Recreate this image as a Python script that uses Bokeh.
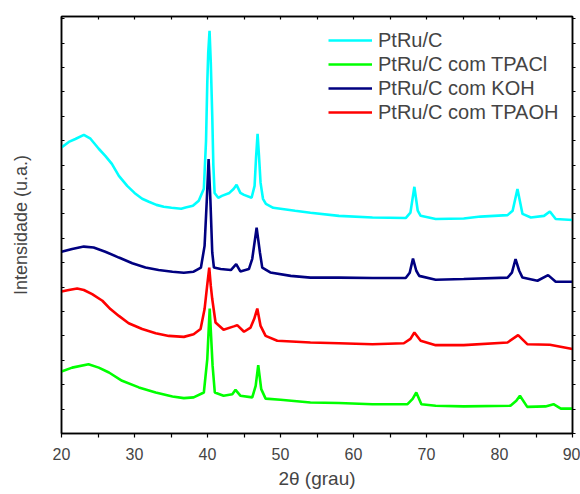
from bokeh.plotting import figure
from bokeh.models import Range1d, LinearAxis, FixedTicker
from bokeh.embed import file_html
from bokeh.resources import INLINE

# 2theta (degrees) and intensity (arbitrary units, offset curves)
x_ptru = [20, 21.0, 21.9, 23.06, 23.97, 25.1, 26.0, 26.9, 27.86, 29.0, 30.0, 31.05, 31.97, 33.0, 34.0, 35.07,
          36.4, 37.0, 38.0, 38.8, 39.5, 39.8, 39.97, 40.1, 40.28, 40.45, 40.65, 40.8, 40.97, 41.47, 41.97, 43.0,
          43.6, 43.98, 44.5, 45.0, 46.04, 46.45, 46.65, 46.86, 47.05, 47.27, 47.6, 48.0, 49.0, 50.0, 52.0, 54.1,
          58.0, 62.6, 67.15, 67.8, 68.34, 68.8, 69.2, 71.26, 75.1, 77.4, 81.1, 81.8, 82.46, 83.15, 84.3, 86.1,
          86.9, 87.7, 90]
y_ptru = [11.72, 11.95, 12.07, 12.24, 12.08, 11.67, 11.38, 11.05, 10.56, 10.15, 9.86, 9.62, 9.50, 9.37, 9.29, 9.25,
          9.21, 9.26, 9.33, 9.54, 10.03, 12.0, 14.37, 15.6, 16.50, 15.2, 13.02, 11.0, 9.86, 9.66, 9.74, 9.86,
          10.03, 10.19, 9.86, 9.78, 9.66, 10.15, 11.3, 12.28, 11.4, 10.27, 9.62, 9.41, 9.25, 9.21, 9.13, 9.05,
          8.92, 8.85, 8.83, 9.05, 10.11, 9.13, 8.92, 8.79, 8.81, 8.89, 8.95, 9.13, 10.02, 9.00, 8.85, 8.92,
          9.10, 8.79, 8.75]

x_tpacl = [20, 21.46, 23.7, 25.1, 26.5, 28.3, 30.6, 32.9, 35.2, 36.76, 38.1, 39.5, 39.97, 40.3, 40.7, 41.0,
           42.2, 43.4, 43.84, 44.5, 46.13, 46.6, 46.95, 47.36, 47.96, 50, 54.1, 58, 62.6, 67.4, 68.1, 68.6,
           69.3, 71.26, 75.1, 81.5, 82.3, 82.8, 83.8, 86.3, 87.4, 88.4, 90]
y_tpacl = [2.54, 2.70, 2.84, 2.70, 2.50, 2.16, 1.89, 1.68, 1.52, 1.45, 1.48, 1.68, 3.05, 5.12, 2.77, 1.68,
           1.55, 1.61, 1.79, 1.55, 1.48, 1.95, 2.80, 1.82, 1.43, 1.38, 1.27, 1.25, 1.20, 1.20, 1.42, 1.68,
           1.20, 1.14, 1.11, 1.14, 1.34, 1.55, 1.09, 1.11, 1.20, 1.02, 1.02]

x_koh = [20, 21.46, 23.06, 24.4, 26.0, 27.86, 29.7, 31.5, 33.3, 35.2, 36.76, 38.1, 39.1, 39.6, 39.9, 40.15,
         40.4, 40.65, 40.88, 41.8, 43.2, 43.93, 44.5, 45.67, 46.13, 46.73, 47.18, 47.5, 48.6, 51.4, 54.1, 58.0,
         62.6, 67.15, 67.7, 68.15, 68.6, 69.0, 71.26, 75.1, 81.1, 81.7, 82.2, 82.7, 83.15, 85.2, 86.66, 87.7, 90]
y_koh = [7.45, 7.56, 7.66, 7.62, 7.45, 7.21, 6.98, 6.80, 6.70, 6.63, 6.59, 6.63, 6.80, 7.69, 9.54, 11.25,
         9.54, 7.42, 6.80, 6.74, 6.70, 6.94, 6.64, 6.74, 7.16, 8.44, 7.42, 6.80, 6.60, 6.46, 6.39, 6.39,
         6.37, 6.37, 6.59, 7.17, 6.67, 6.46, 6.30, 6.33, 6.39, 6.59, 7.15, 6.67, 6.39, 6.26, 6.49, 6.22, 6.22]

x_tpaoh = [20, 21.0, 22.15, 23.06, 24.2, 25.6, 26.7, 27.86, 29.2, 31.05, 32.9, 34.7, 36.76, 38.1, 39.05, 39.6,
           39.95, 40.24, 40.45, 40.65, 41.1, 42.2, 43.6, 44.07, 45.0, 45.9, 46.4, 46.82, 47.27, 47.96, 49.56,
           54.1, 58.0, 62.6, 66.9, 67.8, 68.34, 69.2, 71.26, 75.1, 81.1, 82.55, 83.8, 86.9, 90]
y_tpaoh = [5.82, 5.88, 5.94, 5.88, 5.71, 5.44, 5.10, 4.82, 4.52, 4.28, 4.11, 4.00, 3.96, 4.07, 4.28, 5.10,
           6.05, 6.80, 6.05, 5.51, 4.55, 4.25, 4.39, 4.44, 4.17, 4.34, 4.70, 5.12, 4.41, 4.00, 3.80,
           3.73, 3.70, 3.66, 3.70, 3.88, 4.14, 3.80, 3.62, 3.62, 3.73, 4.03, 3.66, 3.64, 3.46]

series = [
    ("PtRu/C", x_ptru, y_ptru, "#00FFFF"),
    ("PtRu/C com TPACl", x_tpacl, y_tpacl, "#00FF00"),
    ("PtRu/C com KOH", x_koh, y_koh, "#000080"),
    ("PtRu/C com TPAOH", x_tpaoh, y_tpaoh, "#FF0000"),
]

x_ticks = [20, 30, 40, 50, 60, 70, 80, 90]
x_minor = [25, 35, 45, 55, 65, 75, 85]
y_ticks = list(range(0, 18))

FONT = "Liberation Sans"


def hide_labels(ax):
    ax.major_label_text_color = None
    ax.major_label_text_font_size = "4px"
    ax.major_label_standoff = 0


p = figure(frame_width=511, frame_height=417, output_backend="svg", toolbar_location=None,
           x_range=Range1d(20, 90), y_range=Range1d(0, 17.09),
           min_border_left=61, min_border_right=8, min_border_top=16, min_border_bottom=58)
p.background_fill_color = "white"
p.border_fill_color = "white"
p.outline_line_color = "black"
p.outline_line_width = 1.5
p.grid.visible = False

for name, xs, ys, col in series:
    p.line(xs, ys, line_color=col, line_width=2.6, legend_label=name)

# bottom axis
xa = p.xaxis[0]
xa.ticker = FixedTicker(ticks=x_ticks, minor_ticks=x_minor)
xa.major_tick_in = 0
xa.major_tick_out = 4
xa.minor_tick_in = 0
xa.minor_tick_out = 4
xa.axis_line_width = 1.5
xa.major_tick_line_width = 1.2
xa.minor_tick_line_width = 1.2
xa.major_label_text_font = FONT
xa.major_label_text_font_size = "16px"
xa.major_label_standoff = 10
xa.axis_label = "2θ (grau)"
xa.axis_label_text_font = FONT
xa.axis_label_text_font_size = "19px"
xa.axis_label_text_font_style = "normal"
xa.axis_label_standoff = 5

# left axis
ya = p.yaxis[0]
ya.ticker = FixedTicker(ticks=y_ticks, minor_ticks=[])
ya.major_tick_in = 3
ya.major_tick_out = 0
ya.minor_tick_in = 0
ya.minor_tick_out = 0
ya.axis_line_width = 1.5
ya.major_tick_line_width = 1.2
hide_labels(ya)
ya.axis_label = "Intensidade (u.a.)"
ya.axis_label_text_font = FONT
ya.axis_label_text_font_size = "18px"
ya.axis_label_text_font_style = "normal"
ya.axis_label_standoff = 31

# right axis
ra = LinearAxis(ticker=FixedTicker(ticks=y_ticks, minor_ticks=[]))
ra.major_tick_in = 0
ra.major_tick_out = 3
ra.minor_tick_in = 0
ra.minor_tick_out = 0
ra.axis_line_width = 1.5
ra.major_tick_line_width = 1.2
hide_labels(ra)
p.add_layout(ra, "right")

# top axis
ta = LinearAxis(ticker=FixedTicker(ticks=x_ticks, minor_ticks=x_minor))
ta.major_tick_in = 3
ta.major_tick_out = 0
ta.minor_tick_in = 3
ta.minor_tick_out = 0
ta.axis_line_width = 1.5
ta.major_tick_line_width = 1.2
ta.minor_tick_line_width = 1.2
hide_labels(ta)
p.add_layout(ta, "above")

lg = p.legend[0]
lg.location = (267, 309)
lg.margin = 0
lg.padding = 0
lg.border_line_color = None
lg.background_fill_alpha = 0
lg.glyph_width = 44
lg.glyph_height = 24
lg.label_height = 24
lg.spacing = 0
lg.label_standoff = 6
lg.label_text_font = FONT
lg.label_text_font_size = "20px"
lg.label_text_baseline = "middle"

open("out.html", "w").write(file_html(p, INLINE))
